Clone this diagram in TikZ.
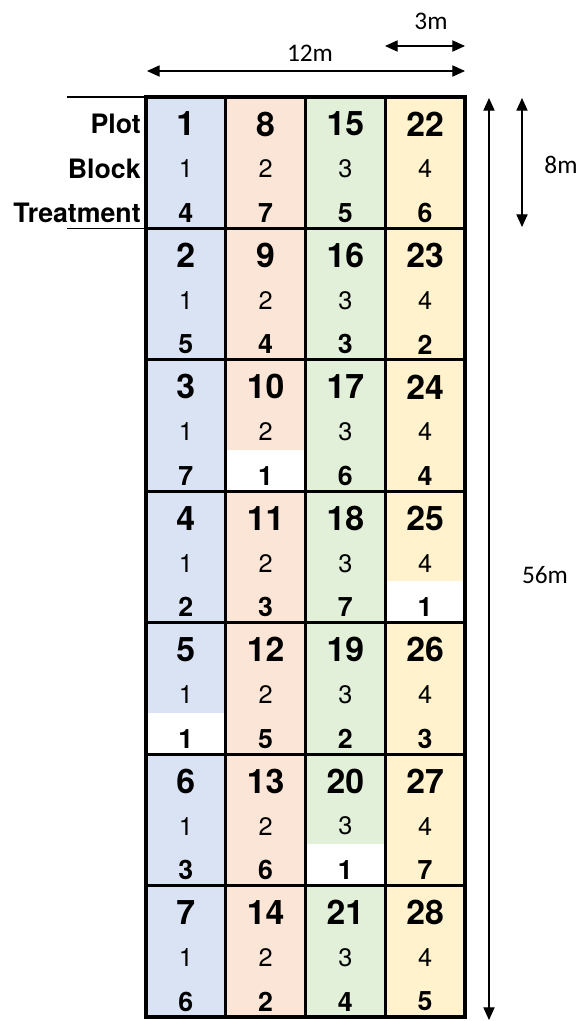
\documentclass[tikz,border=0pt]{standalone}
\usepackage{fontspec}
\setmainfont{TeX Gyre Heros}
\newfontfamily\dimfont{Carlito}
\usepackage{tikz}
\usetikzlibrary{arrows.meta, positioning, calc}

\definecolor{colblue}{HTML}{DAE3F3}
\definecolor{colorange}{HTML}{FBE5D6}
\definecolor{colgreen}{HTML}{E2F0D9}
\definecolor{colyellow}{HTML}{FFF2CC}

\begin{document}
\begin{tikzpicture}[
    x=0.025cm, y=-0.025cm,
    plotnum/.style={font=\fontsize{24}{27}\selectfont\bfseries, inner sep=0},
    blknum/.style={font=\fontsize{18}{21}\selectfont, inner sep=0},
    trtnum/.style={font=\fontsize{19}{22}\selectfont\bfseries, inner sep=0},
    rowlabel/.style={font=\fontsize{19}{22}\selectfont\bfseries, anchor=east, inner sep=0},
    dimlabel/.style={font=\dimfont\fontsize{18}{21}\selectfont, inner sep=0},
    gridline/.style={line width=2.2pt},
    dim/.style={{Triangle[length=9pt,width=8pt]}-{Triangle[length=9pt,width=8pt]}, line width=0.8pt},
]
\useasboundingbox (0,0) rectangle (584,1021);

% Field corners
\coordinate (nw) at (146,97);
\coordinate (se) at (465,1017);
\def\cw{79.75}
\def\bh{131.43}

% Column colours
\foreach \c/\clr in {1/colblue, 2/colorange, 3/colgreen, 4/colyellow}
    \fill[\clr] ({146+(\c-1)*\cw},97) rectangle ({146+\c*\cw},1017);

% Plots: block number = column, treatment per block
\foreach \b/\ta/\tb/\tc/\td in {1/4/7/5/6, 2/5/4/3/2, 3/7/1/6/4, 4/2/3/7/1, 5/1/5/2/3, 6/3/6/1/7, 7/6/2/4/5} {
    \foreach \c/\t in {1/\ta, 2/\tb, 3/\tc, 4/\td} {
        \pgfmathtruncatemacro\pn{(\c-1)*7+\b}
        \pgfmathsetmacro\xc{146+(\c-0.5)*\cw}
        \pgfmathsetmacro\yt{97+(\b-1)*\bh}
        \ifnum\t=1
            \fill[white] ({146+(\c-1)*\cw},{\yt+90}) rectangle ({146+\c*\cw},{\yt+\bh});
        \fi
        \node[plotnum] (plot-\c-\b) at (\xc,{\yt+27}) {\pn};
        \node[blknum] (blk-\c-\b) at (\xc,{\yt+72}) {\c};
        \node[trtnum] (trt-\c-\b) at (\xc,{\yt+116}) {\t};
    }
}

% Grid
\draw[gridline] (nw) rectangle (se);
\foreach \c in {1,2,3}
    \draw[gridline] ({146+\c*\cw},97) -- ({146+\c*\cw},1017);
\foreach \b in {1,...,6}
    \draw[gridline] (146,{97+\b*\bh}) -- (465,{97+\b*\bh});

% Row labels
\node[rowlabel] (lplot) at (141,124) {Plot};
\node[rowlabel] (lblock) at (141,169) {Block};
\node[rowlabel] (ltreat) at (141,213) {Treatment};
\coordinate (ltop) at (67,97);
\coordinate (lbot) at (67,228.4);
\coordinate (lbotr) at (146,228.4);
\draw[line width=1pt] (ltop) -- (nw);
\draw[line width=1pt] (lbot) -- (lbotr);

% Dimensions
\coordinate (w12a) at (147,71);
\coordinate (w12b) at (465,71);
\coordinate (w3a) at (385,46);
\coordinate (w3b) at (465,46);
\coordinate (h56a) at (489,98);
\coordinate (h56b) at (489,1020);
\coordinate (h8a) at (522,98);
\coordinate (h8b) at (522,227);
\draw[dim] (w12a) -- (w12b);
\draw[dim] (w3a) -- (w3b);
\draw[dim] (h56a) -- (h56b);
\draw[dim] (h8a) -- (h8b);
\node[dimlabel] (l12) at (310,53) {12m};
\node[dimlabel] (l3) at (431,21) {3m};
\node[dimlabel] (l56) at (545,575) {56m};
\node[dimlabel] (l8) at (561,165) {8m};

\end{tikzpicture}
\end{document}
